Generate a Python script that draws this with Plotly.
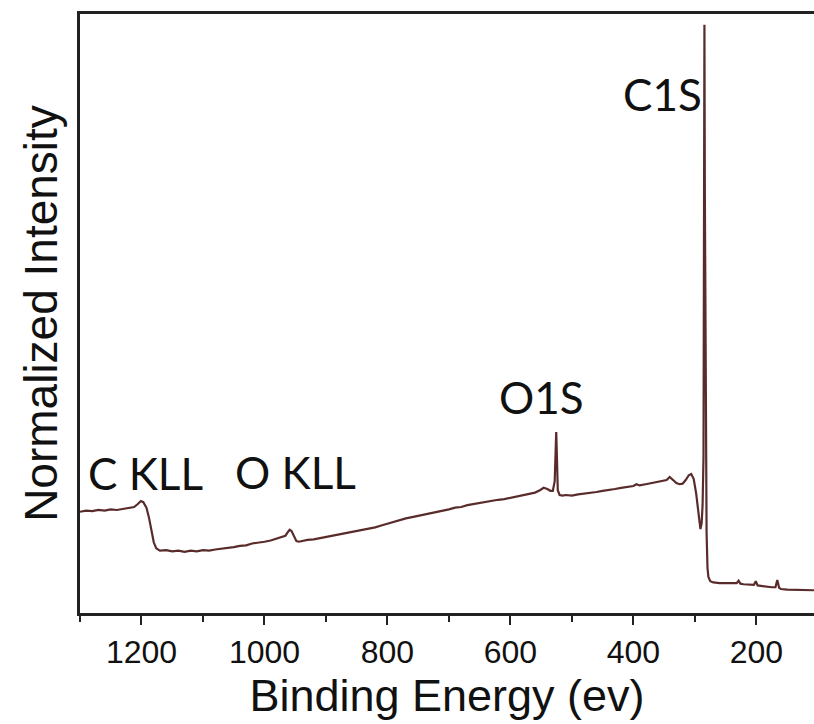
import plotly.graph_objects as go

# Binding energy (eV) and normalized intensity
energy = [1300, 1290, 1280, 1270, 1260, 1250, 1240, 1230, 1220, 1212, 1206, 1201, 1197, 1192, 1188,
          1184, 1180, 1176, 1170, 1160, 1150, 1140, 1130, 1120, 1110, 1100, 1090, 1080, 1070, 1060,
          1050, 1040, 1030, 1020, 1010, 1000, 990, 980, 972, 966, 962, 959, 956, 952, 948, 944, 940,
          930, 920, 910, 900, 890, 880, 870, 860, 850, 840, 830, 820, 810, 800, 790, 780, 770, 760,
          750, 740, 730, 720, 710, 700, 690, 680, 670, 660, 650, 640, 630, 620, 610, 600, 590, 580,
          570, 560, 552, 546, 540, 535, 531, 528, 526.5, 525.5, 524.5, 523, 520, 515, 510, 500, 490,
          480, 470, 460, 450, 440, 430, 420, 410, 400, 395, 390, 380, 370, 360, 352, 346, 341, 336,
          330, 325, 320, 315, 310, 306, 302, 298, 294, 291, 289, 287.5, 286, 285, 284.5, 283.8, 282.5,
          281, 279.5, 278, 275, 270, 260, 250, 240, 232, 229, 226, 221, 210, 204, 201, 198, 190, 184,
          175, 169, 166, 163, 160, 150, 140, 130, 120, 110, 106]

intensity = [0.169, 0.171, 0.170, 0.172, 0.171, 0.173, 0.172, 0.174, 0.175, 0.177, 0.182, 0.187, 0.185,
             0.176, 0.160, 0.140, 0.118, 0.108, 0.104, 0.105, 0.103, 0.104, 0.102, 0.104, 0.103, 0.105,
             0.104, 0.106, 0.107, 0.108, 0.110, 0.112, 0.113, 0.116, 0.117, 0.119, 0.121, 0.124, 0.126,
             0.129, 0.135, 0.139, 0.137, 0.128, 0.120, 0.119, 0.120, 0.122, 0.123, 0.125, 0.127, 0.128,
             0.130, 0.132, 0.135, 0.137, 0.139, 0.141, 0.143, 0.146, 0.149, 0.153, 0.155, 0.158, 0.160,
             0.162, 0.165, 0.167, 0.169, 0.171, 0.173, 0.176, 0.177, 0.180, 0.182, 0.183, 0.185, 0.187,
             0.189, 0.190, 0.192, 0.194, 0.196, 0.199, 0.201, 0.205, 0.209, 0.207, 0.204, 0.204, 0.220,
             0.270, 0.302, 0.265, 0.205, 0.197, 0.196, 0.197, 0.196, 0.198, 0.199, 0.201, 0.202, 0.204,
             0.205, 0.207, 0.209, 0.210, 0.212, 0.215, 0.213, 0.215, 0.217, 0.218, 0.220, 0.222, 0.227,
             0.222, 0.217, 0.215, 0.216, 0.222, 0.230, 0.232, 0.224, 0.200, 0.160, 0.140, 0.150, 0.180,
             0.260, 0.600, 0.982, 0.700, 0.300, 0.134, 0.075, 0.060, 0.053, 0.051, 0.050, 0.050, 0.049,
             0.050, 0.054, 0.049, 0.048, 0.047, 0.047, 0.053, 0.046, 0.045, 0.044, 0.043, 0.043, 0.055,
             0.042, 0.040, 0.039, 0.039, 0.038, 0.038, 0.038, 0.038]

# Peak labels and where they sit (energy, intensity)
peak_labels = ["C1S", "O1S", "C KLL", "O KLL"]
peak_label_energy = [352, 550, 1194, 949]
peak_label_intensity = [0.866, 0.361, 0.234, 0.235]

x_major_ticks = [1200, 1000, 800, 600, 400, 200]
x_minor_ticks = [1300, 1100, 900, 700, 500, 300]

fig = go.Figure()
fig.add_trace(go.Scatter(
    x=energy, y=intensity, mode="lines",
    line=dict(color="#5a2b2b", width=2.2),
    showlegend=False, hoverinfo="skip",
))

for name, ex, iy in zip(peak_labels, peak_label_energy, peak_label_intensity):
    fig.add_annotation(x=ex, y=iy, text=name, showarrow=False,
                       xanchor="center", yanchor="middle",
                       font=dict(family="Lato, Open Sans, sans-serif", size=44, color="#111"))

axis_font = "Liberation Sans, Arial, sans-serif"
fig.update_layout(
    width=814, height=724,
    margin=dict(l=80, r=0, t=14, b=111),
    paper_bgcolor="white", plot_bgcolor="white",
    xaxis=dict(
        range=[1300, 106.3], showgrid=False, zeroline=False,
        showline=True, linecolor="#222", linewidth=2.5, mirror=True,
        ticks="outside", ticklen=9, tickwidth=2, tickcolor="#222",
        tickvals=x_major_ticks, ticktext=[str(v) for v in x_major_ticks],
        tickfont=dict(family=axis_font, size=32, color="#111"),
        minor=dict(tickvals=x_minor_ticks, ticks="outside", ticklen=6, tickwidth=2, tickcolor="#222"),
        title=dict(text="Binding Energy (ev)", font=dict(family=axis_font, size=45, color="#111"), standoff=0),
    ),
    yaxis=dict(
        range=[0, 1], showgrid=False, zeroline=False,
        showline=True, linecolor="#222", linewidth=2.5,
        showticklabels=False, ticks="",
        title=dict(text="Normalized Intensity", font=dict(family=axis_font, size=46, color="#111"), standoff=6),
    ),
)

fig.write_html(
    "out.html",
    config={"displayModeBar": False},
    post_script="document.body.style.margin='0';document.body.style.overflow='hidden';",
)
